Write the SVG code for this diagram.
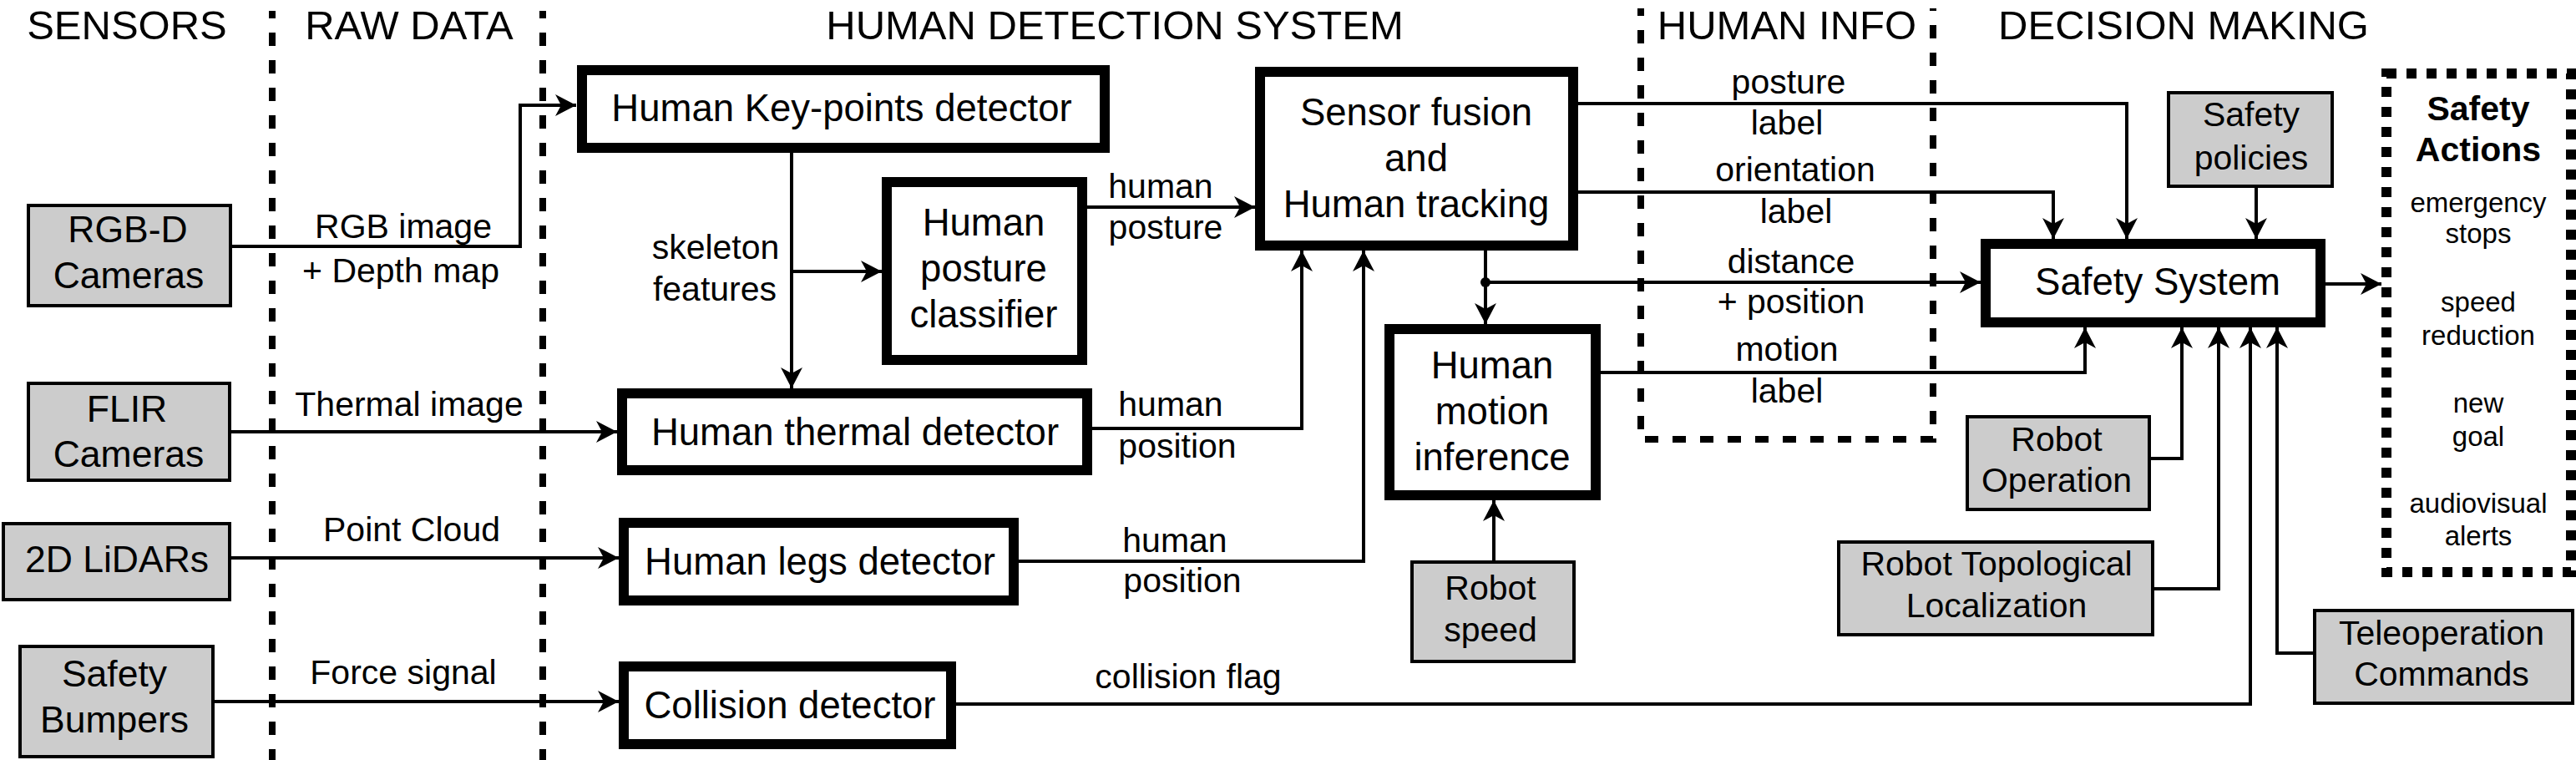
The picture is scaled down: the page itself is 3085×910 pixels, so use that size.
<svg xmlns="http://www.w3.org/2000/svg" width="3085" height="910" viewBox="0 0 3085 910">
<style>
text { font-family: "Liberation Sans", Arial, Helvetica, sans-serif; text-anchor: middle; fill: #000; }
.h { font-size: 49px; }
.g { font-size: 44.5px; }
.d { font-size: 41px; }
.r { font-size: 41px; }
.b { font-size: 45.5px; }
.l { font-size: 41px; }
.ss { font-size: 45.6px; }
.ab { font-size: 41px; font-weight: bold; }
.ai { font-size: 33px; }
.box { fill: #fff; stroke: #000; stroke-width: 12; }
.gbox { fill: #ccc; stroke: #000; stroke-width: 4; }
.c { fill: none; stroke: #000; stroke-width: 4; marker-end: url(#ah); }
.sep { fill: none; stroke: #000; stroke-width: 8; stroke-dasharray: 16 17; stroke-dashoffset: 7; }
.dots { fill: none; stroke: #000; stroke-width: 12; stroke-dasharray: 12 12; }
</style>
<defs>
<marker id="ah" markerUnits="userSpaceOnUse" markerWidth="28" markerHeight="28" viewBox="-26 -14 28 28" refX="0" refY="0" orient="auto">
<path d="M0,0 L-25,-13 L-18,0 L-25,13 Z" fill="#000"/>
</marker>
</defs>
<rect width="3085" height="910" fill="#fff"/>

<g id="titles">
<text class="h" x="152" y="47">SENSORS</text>
<text class="h" x="490" y="47">RAW DATA</text>
<text class="h" x="1335" y="47">HUMAN DETECTION SYSTEM</text>
<text class="h" x="2140" y="47">HUMAN INFO</text>
<text class="h" x="2615" y="47">DECISION MAKING</text>
</g>

<g id="separators">
<line class="sep" x1="326" y1="13" x2="326" y2="910"/>
<line class="sep" x1="650" y1="13" x2="650" y2="910"/>
<path class="sep" d="M1965,10 V526 H2315 V10"/>
</g>

<g id="connectors">
<path class="c" d="M278,295 H623 V126 H690"/>
<path class="c" d="M277,517 H739"/>
<path class="c" d="M277,668 H741"/>
<path class="c" d="M257,840 H741"/>
<path class="c" d="M948,183 V465"/>
<path class="c" d="M948,325 H1056"/>
<path class="c" d="M1302,248 H1503"/>
<path class="c" d="M1308,513 H1559 V300"/>
<path class="c" d="M1220,672 H1633 V300"/>
<path class="c" d="M1145,843 H2695 V392"/>
<path class="c" d="M1779,300 V388"/>
<path class="c" d="M1779,338 H2372"/>
<circle cx="1779" cy="338" r="6" fill="#000"/>
<path class="c" d="M1890,124 H2547 V286"/>
<path class="c" d="M1890,230 H2459 V286"/>
<path class="c" d="M1917,446 H2497 V392"/>
<path class="c" d="M2702,225 V286"/>
<path class="c" d="M2576,549 H2613 V392"/>
<path class="c" d="M2580,705 H2657 V392"/>
<path class="c" d="M2770,782 H2727 V392"/>
<path class="c" d="M2785,340 H2852"/>
<path class="c" d="M1789,671 V599"/>
</g>

<g id="connector-labels">
<text class="r" x="483" y="285">RGB image</text>
<text class="r" x="480" y="338">+ Depth map</text>
<text class="r" x="490" y="498">Thermal image</text>
<text class="r" x="493" y="648">Point Cloud</text>
<text class="r" x="483" y="819">Force signal</text>
<text class="l" x="857" y="310">skeleton</text>
<text class="l" x="856" y="360">features</text>
<text class="l" x="1390" y="237">human</text>
<text class="l" x="1396" y="286">posture</text>
<text class="l" x="1402" y="498">human</text>
<text class="l" x="1410" y="548">position</text>
<text class="l" x="1407" y="661">human</text>
<text class="l" x="1416" y="709">position</text>
<text class="l" x="1423" y="824">collision flag</text>
<text class="l" x="2142" y="112">posture</text>
<text class="l" x="2140" y="161">label</text>
<text class="l" x="2150" y="217">orientation</text>
<text class="l" x="2151" y="267">label</text>
<text class="l" x="2145" y="327">distance</text>
<text class="l" x="2145" y="375">+ position</text>
<text class="l" x="2140" y="432">motion</text>
<text class="l" x="2140" y="482">label</text>
</g>

<g id="rgbd-cameras">
<rect class="gbox" x="34" y="246" width="242" height="120"/>
<text class="g" x="153" y="290">RGB-D</text>
<text class="g" x="154" y="345">Cameras</text>
</g>
<g id="flir-cameras">
<rect class="gbox" x="34" y="459" width="241" height="116"/>
<text class="g" x="152" y="505">FLIR</text>
<text class="g" x="154" y="559">Cameras</text>
</g>
<g id="lidars">
<rect class="gbox" x="4" y="627" width="271" height="91"/>
<text class="g" x="140" y="685">2D LiDARs</text>
</g>
<g id="bumpers">
<rect class="gbox" x="24" y="774" width="231" height="132"/>
<text class="g" x="137" y="822">Safety</text>
<text class="g" x="137" y="877">Bumpers</text>
</g>

<g id="keypoints">
<rect class="box" x="697" y="84" width="626" height="93"/>
<text class="b" x="1008" y="145">Human Key-points detector</text>
</g>
<g id="posture-classifier">
<rect class="box" x="1062" y="218" width="234" height="213"/>
<text class="b" x="1178" y="282">Human</text>
<text class="b" x="1178" y="337">posture</text>
<text class="b" x="1178" y="392">classifier</text>
</g>
<g id="thermal-detector">
<rect class="box" x="745" y="471" width="557" height="92"/>
<text class="b" x="1024" y="533">Human thermal detector</text>
</g>
<g id="legs-detector">
<rect class="box" x="747" y="626" width="467" height="93"/>
<text class="b" x="982" y="688">Human legs detector</text>
</g>
<g id="collision-detector">
<rect class="box" x="747" y="798" width="392" height="93"/>
<text class="b" x="946" y="860">Collision detector</text>
</g>
<g id="sensor-fusion">
<rect class="box" x="1509" y="86" width="375" height="208"/>
<text class="b" x="1696" y="150">Sensor fusion</text>
<text class="b" x="1696" y="205">and</text>
<text class="b" x="1696" y="260">Human tracking</text>
</g>
<g id="motion-inference">
<rect class="box" x="1664" y="394" width="247" height="199"/>
<text class="b" x="1787" y="453">Human</text>
<text class="b" x="1787" y="508">motion</text>
<text class="b" x="1787" y="563">inference</text>
</g>
<g id="robot-speed">
<rect class="gbox" x="1691" y="673" width="194" height="119"/>
<text class="d" x="1785" y="718">Robot</text>
<text class="d" x="1785" y="768">speed</text>
</g>

<g id="safety-system">
<rect class="box" x="2378" y="292" width="401" height="94"/>
<text class="ss" x="2584" y="353">Safety System</text>
</g>
<g id="safety-policies">
<rect class="gbox" x="2597" y="111" width="196" height="112"/>
<text class="d" x="2696" y="151">Safety</text>
<text class="d" x="2696" y="203">policies</text>
</g>
<g id="robot-operation">
<rect class="gbox" x="2356" y="499" width="218" height="111"/>
<text class="d" x="2463" y="540">Robot</text>
<text class="d" x="2463" y="589">Operation</text>
</g>
<g id="robot-localization">
<rect class="gbox" x="2202" y="649" width="376" height="111"/>
<text class="d" x="2391" y="689">Robot Topological</text>
<text class="d" x="2391" y="739">Localization</text>
</g>
<g id="teleoperation">
<rect class="gbox" x="2772" y="731" width="309" height="111"/>
<text class="d" x="2924" y="772">Teleoperation</text>
<text class="d" x="2924" y="821">Commands</text>
</g>
<g id="safety-actions">
<rect class="dots" x="2858" y="88" width="221" height="597"/>
<text class="ab" x="2968" y="144">Safety</text>
<text class="ab" x="2968" y="193">Actions</text>
<text class="ai" x="2968" y="254">emergency</text>
<text class="ai" x="2968" y="291">stops</text>
<text class="ai" x="2968" y="373">speed</text>
<text class="ai" x="2968" y="413">reduction</text>
<text class="ai" x="2968" y="494">new</text>
<text class="ai" x="2968" y="534">goal</text>
<text class="ai" x="2968" y="614">audiovisual</text>
<text class="ai" x="2968" y="653">alerts</text>
</g>
</svg>
